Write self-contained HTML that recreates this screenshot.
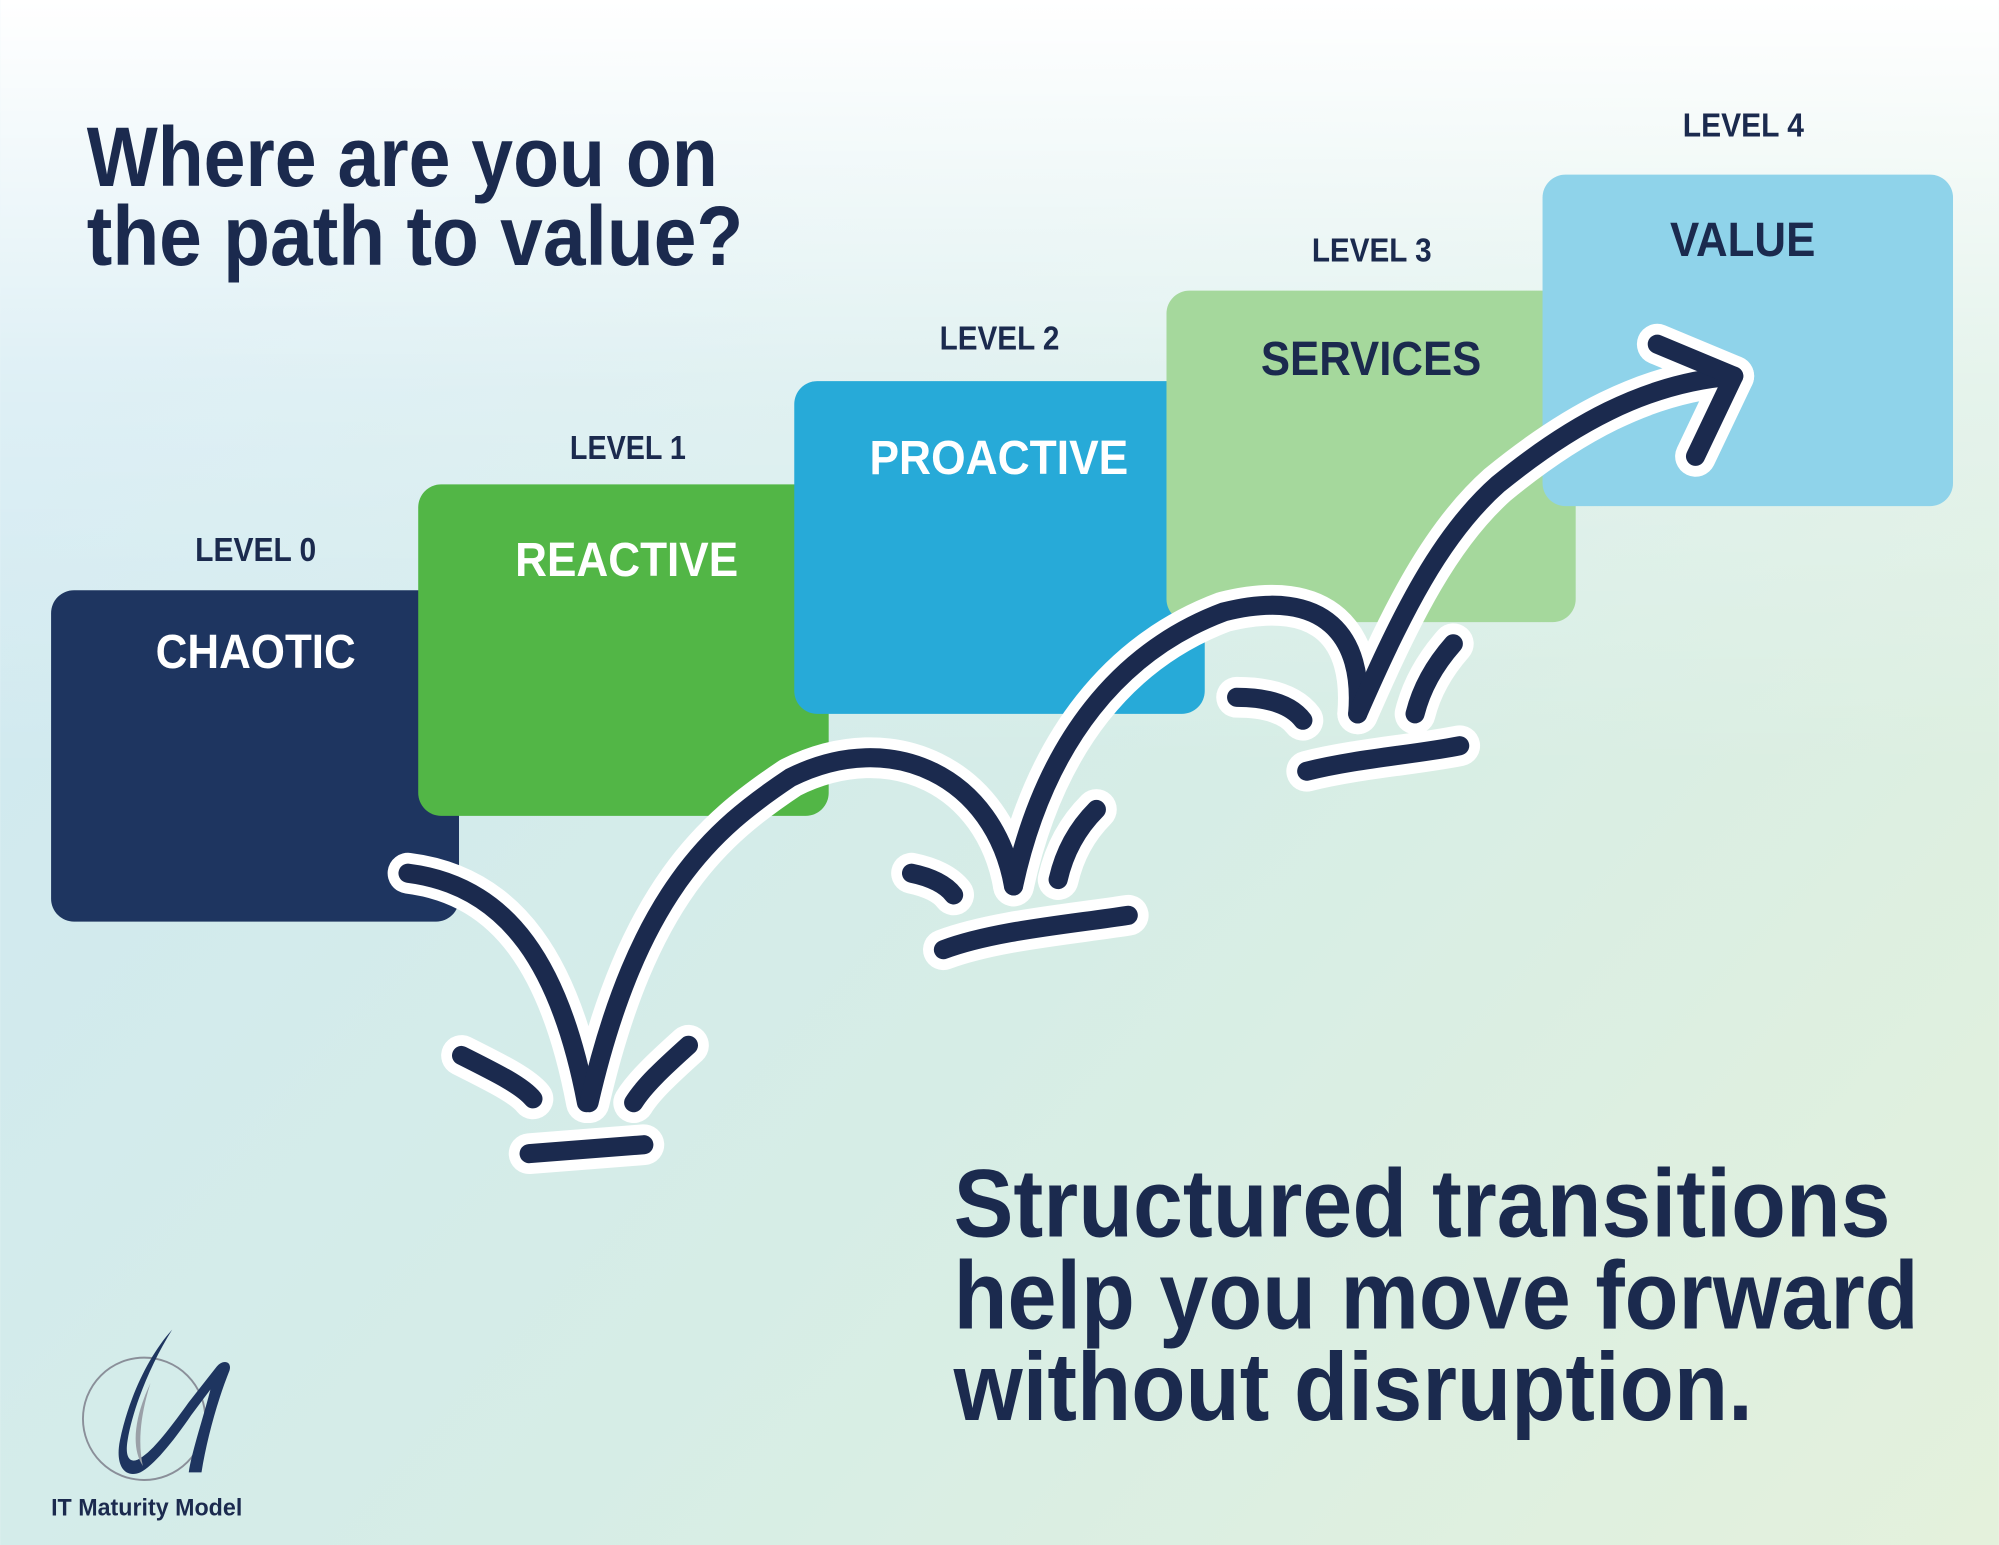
<!DOCTYPE html>
<html><head><meta charset="utf-8"><style>
html,body{margin:0;padding:0;width:1999px;height:1545px;overflow:hidden}
svg{display:block}
text{font-family:"Liberation Sans Narrow","Liberation Sans",sans-serif;font-weight:bold}
</style></head><body>
<svg width="1999" height="1545" viewBox="0 0 1568 1212" xmlns="http://www.w3.org/2000/svg">
<defs>
<linearGradient id="bg" x1="0" y1="0.3" x2="1" y2="1">
<stop offset="0" stop-color="#d0e9f1"/><stop offset="0.5" stop-color="#d6ede6"/><stop offset="1" stop-color="#e4f1dc"/>
</linearGradient>
<linearGradient id="top" x1="0" y1="0" x2="0" y2="1">
<stop offset="0" stop-color="#fff" stop-opacity="1"/><stop offset="0.25" stop-color="#fff" stop-opacity="0.3"/><stop offset="0.5" stop-color="#fff" stop-opacity="0"/>
</linearGradient>
</defs>
<rect width="1568" height="1212" fill="url(#bg)"/>
<rect width="1568" height="1212" fill="url(#top)"/>

<g fill="#1b2a4e">
<text x="68" y="146" font-size="66" textLength="495" lengthAdjust="spacingAndGlyphs">Where are you on</text>
<text x="68" y="208" font-size="66" textLength="515" lengthAdjust="spacingAndGlyphs">the path to value?</text>
<text x="748" y="970" font-size="76" textLength="735" lengthAdjust="spacingAndGlyphs">Structured transitions</text>
<text x="748" y="1042" font-size="76" textLength="757" lengthAdjust="spacingAndGlyphs">help you move forward</text>
<text x="748" y="1114" font-size="76" textLength="627" lengthAdjust="spacingAndGlyphs">without disruption.</text>
</g>

<rect x="40" y="463" width="320" height="260" rx="18" fill="#1e3560"/>
<rect x="328" y="380" width="322" height="260" rx="18" fill="#52b646"/>
<rect x="623" y="299" width="322" height="261" rx="18" fill="#27aad8"/>
<rect x="915" y="228" width="321" height="260" rx="18" fill="#a5d89c"/>
<rect x="1210" y="137" width="322" height="260" rx="18" fill="#8fd3ea"/>

<g font-size="26" fill="#1b2a4e">
<text x="153" y="440" textLength="95" lengthAdjust="spacingAndGlyphs">LEVEL 0</text>
<text x="447" y="360" textLength="91" lengthAdjust="spacingAndGlyphs">LEVEL 1</text>
<text x="737" y="274" textLength="94" lengthAdjust="spacingAndGlyphs">LEVEL 2</text>
<text x="1029" y="205" textLength="94" lengthAdjust="spacingAndGlyphs">LEVEL 3</text>
<text x="1320" y="107" textLength="95" lengthAdjust="spacingAndGlyphs">LEVEL 4</text>
</g>
<g font-size="38">
<text x="122" y="524" fill="#fff" textLength="157" lengthAdjust="spacingAndGlyphs">CHAOTIC</text>
<text x="404" y="452" fill="#fff" textLength="175" lengthAdjust="spacingAndGlyphs">REACTIVE</text>
<text x="682" y="372" fill="#fff" textLength="203" lengthAdjust="spacingAndGlyphs">PROACTIVE</text>
<text x="989" y="294" fill="#1b2a4e" textLength="173" lengthAdjust="spacingAndGlyphs">SERVICES</text>
<text x="1310" y="201" fill="#1b2a4e" textLength="114" lengthAdjust="spacingAndGlyphs">VALUE</text>
</g>

<g fill="none" stroke-linecap="round" stroke-linejoin="round">
<g stroke="#fff" stroke-width="32">
<path d="M320,685 C400,695 440,760 460,865"/>
<path d="M462,865 C500,700 560,650 620,610 C700,570 780,610 795,695"/>
<path d="M795,695 C820,580 880,510 960,480 C1040,460 1070,500 1065,560"/>
<path d="M1065,560 C1100,480 1130,420 1175,380 C1230,335 1290,300 1360,295"/>
<path d="M1300,270 L1360,295 L1330,358"/>
<path d="M362,828 C390,842 410,852 418,862 M540,820 C520,838 505,852 497,865 M415,905 L505,898"/>
<path d="M715,685 C730,688 742,694 748,702 M860,635 C845,650 835,668 830,690 M740,745 C780,730 840,725 885,718"/>
<path d="M970,547 C995,547 1013,553 1022,565 M1140,505 C1125,522 1115,540 1110,560 M1025,605 C1065,595 1110,592 1145,585"/>
</g>
<g stroke="#1b2a4e" stroke-width="15">
<path d="M320,685 C400,695 440,760 460,865"/>
<path d="M462,865 C500,700 560,650 620,610 C700,570 780,610 795,695"/>
<path d="M795,695 C820,580 880,510 960,480 C1040,460 1070,500 1065,560"/>
<path d="M1065,560 C1100,480 1130,420 1175,380 C1230,335 1290,300 1360,295"/>
<path d="M1300,270 L1360,295 L1330,358"/>
<path d="M362,828 C390,842 410,852 418,862 M540,820 C520,838 505,852 497,865 M415,905 L505,898"/>
<path d="M715,685 C730,688 742,694 748,702 M860,635 C845,650 835,668 830,690 M740,745 C780,730 840,725 885,718"/>
<path d="M970,547 C995,547 1013,553 1022,565 M1140,505 C1125,522 1115,540 1110,560 M1025,605 C1065,595 1110,592 1145,585"/>
</g>
</g>

<circle cx="113" cy="1113" r="48" fill="none" stroke="#8a8f99" stroke-width="1.5"/>
<path d="M135,1043 C115,1065 100,1100 94,1130 C90,1150 98,1160 110,1155 C120,1150 135,1132 150,1110 L165,1090 C160,1110 150,1140 148,1155 L158,1155 C162,1130 170,1100 180,1075 C182,1068 175,1066 170,1072 L148,1100 C130,1125 118,1140 108,1145 C101,1148 98,1142 100,1130 C104,1105 118,1070 135,1043 Z" fill="#1e3560"/>
<path d="M118,1085 C106,1110 102,1135 112,1150 C108,1132 110,1110 118,1085 Z" fill="#9aa0a8"/>
<text x="40" y="1189" font-size="19" fill="#1b2a4e" textLength="150" lengthAdjust="spacingAndGlyphs">IT Maturity Model</text>
</svg>
</body></html>
